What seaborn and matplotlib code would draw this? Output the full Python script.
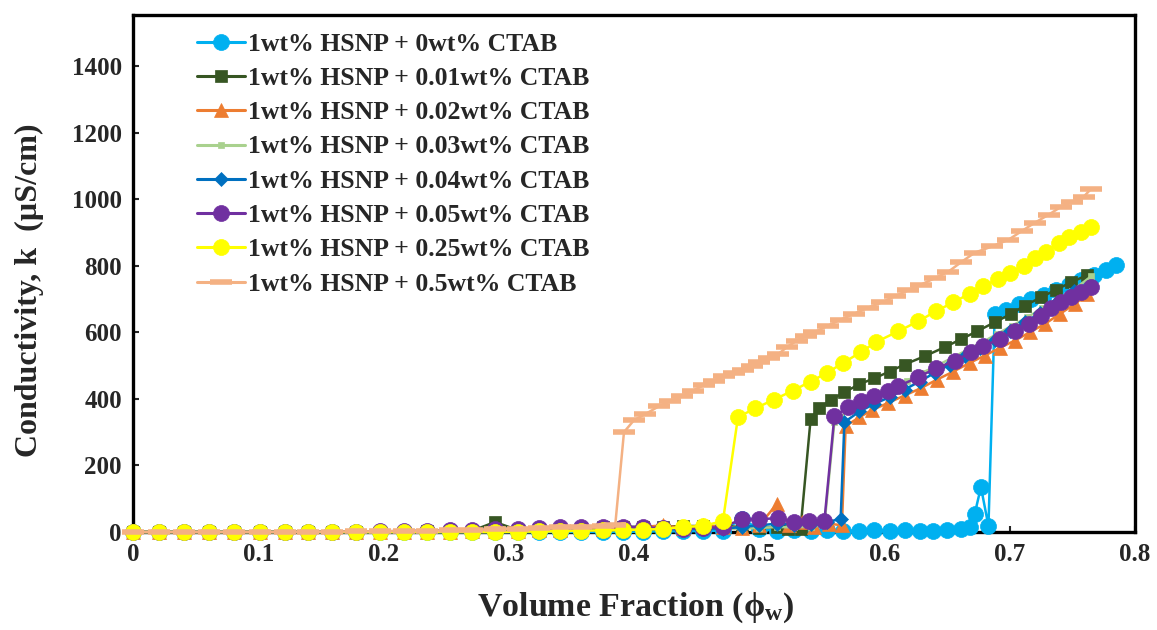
import matplotlib
matplotlib.use("Agg")
import matplotlib.pyplot as plt
from matplotlib.lines import Line2D
import seaborn as sns
import pandas as pd

# ---------------- data ----------------
phi_low = [0.0, 0.0205, 0.041, 0.061, 0.081, 0.101, 0.121, 0.140, 0.159, 0.178,
           0.197, 0.216, 0.235, 0.253, 0.271, 0.289, 0.307, 0.324, 0.341, 0.358,
           0.375, 0.391, 0.407, 0.423, 0.439, 0.455, 0.471]

labels = ["1wt% HSNP + 0wt% CTAB", "1wt% HSNP + 0.01wt% CTAB", "1wt% HSNP + 0.02wt% CTAB",
          "1wt% HSNP + 0.03wt% CTAB", "1wt% HSNP + 0.04wt% CTAB", "1wt% HSNP + 0.05wt% CTAB",
          "1wt% HSNP + 0.25wt% CTAB", "1wt% HSNP + 0.5wt% CTAB"]

# 0 wt% CTAB
k0_low = [0, 0, 0, 0, 0, 0, 0, 0, 0, 0, 0, 0, 0, 0, 0, 0, 0, 0, 0, 0, 0, 0, 1, 2, 2, 3, 4]
x0_tail = [0.486, 0.500, 0.514, 0.528, 0.541, 0.554, 0.567, 0.580, 0.592, 0.604, 0.616, 0.628,
           0.639, 0.650, 0.661, 0.668, 0.672, 0.677, 0.683, 0.688, 0.697, 0.707, 0.717, 0.727,
           0.737, 0.747, 0.757, 0.767, 0.777, 0.785]
k0_tail = [40, 8, 4, 6, 3, 5, 2, 4, 6, 3, 5, 2, 4, 6, 8, 15, 54, 135, 18, 654, 668, 684, 699, 713,
           728, 743, 758, 773, 788, 802]

# 0.01 wt% CTAB
k1_low = [0, 0, 0, 0, 0, 0, 0, 0, 0, 0, 0, 1, 2, 3, 4, 30, 6, 8, 10, 12, 14, 15, 16, 16, 18, 18, 18]
x1_tail = [0.486, 0.500, 0.514, 0.523, 0.533, 0.541, 0.548, 0.557, 0.568, 0.580, 0.592, 0.604,
           0.616, 0.632, 0.648, 0.661, 0.674, 0.688, 0.701, 0.712, 0.725, 0.737, 0.749, 0.762]
k1_tail = [15, 12, 15, 10, 10, 339, 372, 396, 420, 444, 462, 482, 503, 528, 555, 579, 603, 630,
           655, 680, 705, 728, 750, 772]

# 0.02 wt% CTAB
k2_low = [0, 0, 0, 0, 0, 0, 0, 0, 0, 0, 0, 0, 0, 1, 2, 3, 4, 5, 6, 8, 10, 12, 15, 20, 12, 20, 15]
x2_tail = [0.486, 0.500, 0.514, 0.524, 0.534, 0.544, 0.556, 0.566, 0.569, 0.580, 0.590, 0.603,
           0.616, 0.629, 0.642, 0.655, 0.668, 0.680, 0.692, 0.704, 0.716, 0.728, 0.740, 0.752, 0.762]
k2_tail = [12, 20, 84, 20, 30, 15, 25, 20, 318, 345, 366, 388, 410, 432, 458, 482, 508, 530, 553,
           575, 600, 625, 655, 685, 715]

# 0.03 wt% CTAB
k3_low = [0, 0, 0, 0, 0, 0, 0, 0, 0, 0, 0, 0, 0, 0, 0, 0, 0, 0, 2, 4, 5, 6, 8, 8, 10, 10, 10]
x3_tail = [0.486, 0.500, 0.514, 0.528, 0.541, 0.552, 0.560, 0.571, 0.582, 0.594, 0.606, 0.618,
           0.630, 0.642, 0.654, 0.666, 0.678, 0.690, 0.702, 0.714, 0.726, 0.738, 0.750, 0.765]
k3_tail = [10, 12, 15, 14, 16, 20, 330, 365, 390, 410, 432, 455, 478, 500, 523, 547, 570, 595,
           620, 645, 672, 698, 725, 768]

# 0.04 wt% CTAB
k4_low = [0, 0, 0, 0, 0, 0, 0, 0, 0, 0, 0, 0, 0, 0, 0, 1, 2, 3, 4, 5, 5, 6, 6, 8, 8, 10, 10]
x4_tail = [0.486, 0.500, 0.514, 0.528, 0.541, 0.554, 0.565, 0.568, 0.580, 0.592, 0.604, 0.616,
           0.628, 0.640, 0.652, 0.664, 0.676, 0.688, 0.700, 0.712, 0.724, 0.736, 0.751]
k4_tail = [15, 20, 25, 22, 25, 30, 39, 330, 362, 385, 405, 428, 452, 478, 503, 528, 553, 578,
           603, 630, 657, 685, 725]

# 0.05 wt% CTAB
k5_low = [0, 0, 0, 0, 0, 0, 0, 0, 0, 1, 2, 3, 4, 5, 6, 8, 10, 12, 15, 15, 15, 16, 14, 12, 10, 12, 15]
x5_tail = [0.486, 0.500, 0.515, 0.528, 0.540, 0.552, 0.560, 0.571, 0.581, 0.592, 0.603, 0.611,
           0.627, 0.641, 0.656, 0.669, 0.679, 0.692, 0.704, 0.715, 0.725, 0.733, 0.741, 0.749,
           0.757, 0.765]
k5_tail = [38, 38, 42, 30, 32, 33, 348, 375, 393, 408, 423, 438, 465, 492, 513, 540, 558, 580,
           603, 625, 650, 672, 690, 705, 720, 735]

# 0.25 wt% CTAB
k6_low = [0, 0, 0, 0, 0, 0, 0, 0, 0, 0, 0, 0, 0, 0, 0, 0, 1, 2, 3, 4, 5, 6, 7, 9, 15, 18, 33]
x6_tail = [0.483, 0.497, 0.512, 0.527, 0.541, 0.554, 0.567, 0.581, 0.593, 0.611, 0.627, 0.641,
           0.655, 0.668, 0.679, 0.691, 0.700, 0.711, 0.720, 0.729, 0.739, 0.747, 0.757, 0.765]
k6_tail = [345, 372, 398, 425, 452, 478, 508, 540, 570, 603, 633, 663, 690, 716, 738, 761, 779,
           800, 824, 842, 869, 887, 902, 917]

# 0.5 wt% CTAB
k7_low = [0, 0, 0, 0, 0, 0, 0, 1, 1, 2, 2, 3, 4, 5, 6, 8, 10, 12, 14, 16, 18]
x7_tail = [0.385, 0.392, 0.400, 0.409, 0.420, 0.429, 0.438, 0.447, 0.456, 0.464, 0.472, 0.480,
           0.487, 0.494, 0.500, 0.508, 0.515, 0.522, 0.530, 0.537, 0.544, 0.555, 0.565, 0.576,
           0.587, 0.598, 0.608, 0.619, 0.629, 0.640, 0.651, 0.661, 0.672, 0.686, 0.699, 0.710,
           0.720, 0.731, 0.741, 0.750, 0.759, 0.765]
k7_tail = [20, 300, 336, 354, 378, 393, 408, 425, 441, 455, 468, 478, 486, 498, 510, 522, 534,
           555, 575, 588, 600, 620, 638, 656, 674, 690, 708, 726, 743, 762, 782, 810, 839, 858,
           878, 905, 929, 953, 977, 992, 1007, 1031]

series_x = [phi_low + x0_tail, phi_low + x1_tail, phi_low + x2_tail, phi_low + x3_tail,
            phi_low + x4_tail, phi_low + x5_tail, phi_low + x6_tail,
            phi_low[:len(k7_low)] + x7_tail]
series_y = [k0_low + k0_tail, k1_low + k1_tail, k2_low + k2_tail, k3_low + k3_tail,
            k4_low + k4_tail, k5_low + k5_tail, k6_low + k6_tail, k7_low + k7_tail]

# ---------------- styles ----------------
colors = ["#00B0F0", "#375623", "#ED7D31", "#A9D18E", "#0070C0", "#7030A0", "#FFFF00", "#F4B183"]
markers = ["o", "s", "^", "s", "D", "o", "o", "_"]
msizes = [11.5, 8.5, 9.5, 5.0, 7.0, 11.5, 11.5, 16]
mews = [0.5, 0.5, 0.5, 0.5, 0.5, 0.5, 0.5, 4.0]

sns.set_style("white")
plt.rcParams["font.family"] = ["Liberation Serif", "DejaVu Serif"]
plt.rcParams["font.weight"] = "bold"
plt.rcParams["mathtext.fontset"] = "custom"
plt.rcParams["mathtext.rm"] = "Liberation Serif:bold"
plt.rcParams["mathtext.it"] = "Liberation Serif:bold"
plt.rcParams["mathtext.bf"] = "Liberation Serif:bold"

fig = plt.figure(figsize=(11.57, 6.30), dpi=100)
ax = fig.add_axes([133 / 1157, 1 - 532 / 630, (1135 - 133) / 1157, (532 - 15) / 630])

handles = []
for i in range(8):
    df = pd.DataFrame({"phi": series_x[i], "k": series_y[i]})
    sns.lineplot(data=df, x="phi", y="k", ax=ax, color=colors[i], marker=markers[i],
                 markersize=msizes[i], markeredgewidth=mews[i], markeredgecolor=colors[i],
                 linewidth=1.8, estimator=None, sort=False, legend=False,
                 clip_on=False, zorder=3 + i)
    handles.append(Line2D([], [], color=colors[i], marker=markers[i], markersize=msizes[i],
                          markeredgewidth=mews[i], markeredgecolor=colors[i], linewidth=2.2))

ax.set_xlim(0, 0.8)
ax.set_ylim(0, 1553)
ax.set_xticks([0, 0.1, 0.2, 0.3, 0.4, 0.5, 0.6, 0.7, 0.8])
ax.set_xticklabels(["0", "0.1", "0.2", "0.3", "0.4", "0.5", "0.6", "0.7", "0.8"])
ax.set_yticks([0, 200, 400, 600, 800, 1000, 1200, 1400])

for s in ax.spines.values():
    s.set_linewidth(2.4)
    s.set_color("black")
    s.set_zorder(2.5)

ax.tick_params(axis="both", direction="in", length=4, width=1.5, labelsize=18,
               bottom=True, left=True, top=False, right=False, pad=8)
for t in ax.get_xticklabels() + ax.get_yticklabels():
    t.set_fontweight("bold")

ax.set_xlabel("Volume Fraction (\u03d5$_\\mathrm{w}$)", fontsize=24.5, fontweight="bold")
ax.set_ylabel("Conductivity, k  (µS/cm)", fontsize=23, fontweight="bold")
ax.xaxis.set_label_coords(0.502, -0.113)
ax.yaxis.set_label_coords(-0.089, 0.468)

ax.legend(handles, labels, loc="upper left", bbox_to_anchor=(0.064, 0.966), frameon=False,
          prop={"family": "Liberation Serif", "weight": "bold", "size": 18.5},
          handlelength=1.85, handletextpad=0.12, labelspacing=0.44, borderaxespad=0,
          borderpad=0)

fig.savefig("out.png", dpi=100)
